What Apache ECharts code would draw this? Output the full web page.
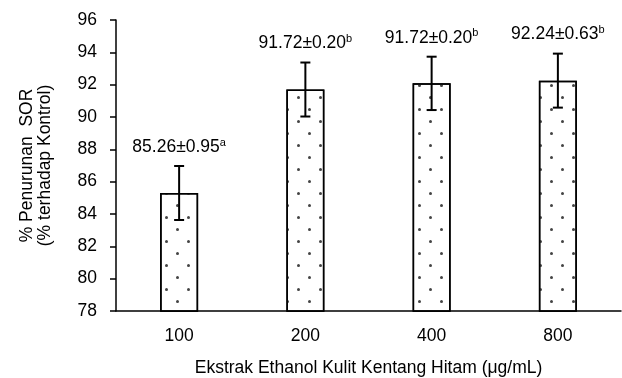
<!DOCTYPE html>
<html><head><meta charset="utf-8">
<script src="https://cdn.jsdelivr.net/npm/echarts@6/dist/echarts.min.js"></script>
<style>html,body{margin:0;padding:0;background:#fff}#c{width:622px;height:378px}</style>
</head><body><div id="c"></div>
<script>
const categories = ['100', '200', '400', '800'];
const means = [85.3, 91.7, 92.08, 92.25];
const errors = [1.67, 1.67, 1.65, 1.67];
const labelMain = ['85.26±0.95', '91.72±0.20', '91.72±0.20', '92.24±0.63'];
const labelSup = ['a', 'b', 'b', 'b'];
const yMin = 78, yMax = 96, yInterval = 2;
const FONT = "'Liberation Sans', Arial, sans-serif";
const FS = 17.5;

const chart = echarts.init(document.getElementById('c'), null, {renderer: 'canvas'});
chart.setOption({
  animation: false,
  backgroundColor: '#fff',
  grid: {left: 116, right: 1, top: 20, bottom: 67, outerBoundsMode: 'none', containLabel: false},
  xAxis: {
    type: 'category', data: categories,
    axisLine: {lineStyle: {color: '#000', width: 1.5}},
    axisTick: {alignWithLabel: true, length: 5, lineStyle: {color: '#000', width: 1.5}},
    axisLabel: {color: '#000', fontSize: FS, fontFamily: FONT, margin: 16},
    name: 'Ekstrak Ethanol Kulit Kentang Hitam (μg/mL)', nameLocation: 'middle', nameGap: 48,
    nameTextStyle: {color: '#000', fontSize: FS, fontFamily: FONT}
  },
  yAxis: {
    type: 'value', min: yMin, max: yMax, interval: yInterval,
    axisLine: {show: true, lineStyle: {color: '#000', width: 1.5}},
    axisTick: {show: true, length: 6, lineStyle: {color: '#000', width: 1.5}},
    splitLine: {show: false},
    axisLabel: {color: '#000', fontSize: FS, fontFamily: FONT, margin: 19},
    name: '% Penurunan  SOR\n(% terhadap Kontrol)', nameLocation: 'middle', nameRotate: 90, nameGap: 62,
    nameTextStyle: {color: '#000', fontSize: FS, fontFamily: FONT, lineHeight: 18}
  },
  series: [
    {
      type: 'bar', data: means, barWidth: 38, z: 2,
      itemStyle: {
        color: '#fff', borderColor: '#000', borderWidth: 1.5,
        decal: {
          symbol: 'circle', symbolSize: 1, color: '#444',
          dashArrayX: [[2.5, 18.5], [0, 10.5, 2.5, 8]],
          dashArrayY: [2.5, 8.5]
        }
      }
    },
    {
      type: 'custom', z: 5,
      data: means.map((m, i) => [i, m, errors[i]]),
      renderItem: function (params, api) {
        const idx = params.dataIndex;
        const i = api.value(0), m = api.value(1), e = api.value(2);
        const top = api.coord([i, m + e]);
        const bot = api.coord([i, m - e]);
        const half = 5;
        const ls = {stroke: '#000', lineWidth: 2};
        return {
          type: 'group', children: [
            {type: 'line', shape: {x1: top[0], y1: top[1], x2: bot[0], y2: bot[1]}, style: ls},
            {type: 'line', shape: {x1: top[0] - half, y1: top[1], x2: top[0] + half, y2: top[1]}, style: ls},
            {type: 'line', shape: {x1: bot[0] - half, y1: bot[1], x2: bot[0] + half, y2: bot[1]}, style: ls},
            {
              type: 'text', x: top[0], y: top[1] - 19,
              style: {
                text: '{m|' + labelMain[idx] + '}{s|' + labelSup[idx] + '}',
                align: 'center', verticalAlign: 'middle',
                rich: {
                  m: {fontSize: FS, fontFamily: FONT, fill: '#000', lineHeight: 20},
                  s: {fontSize: 11, fontFamily: FONT, fill: '#000', verticalAlign: 'top', lineHeight: 20}
                }
              }
            }
          ]
        };
      }
    }
  ]
});
</script></body></html>
